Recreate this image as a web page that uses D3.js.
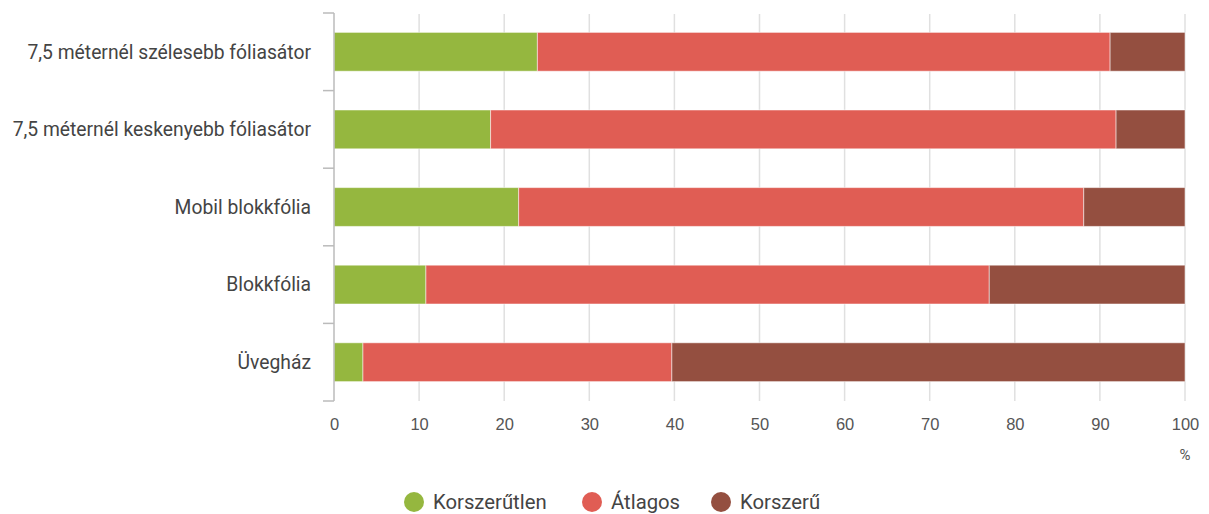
<!DOCTYPE html>
<html>
<head>
<meta charset="utf-8">
<script src="https://cdn.jsdelivr.net/npm/d3@7"></script>
<style>
  body { margin: 0; background: #fff; font-family: Roboto, "Noto Sans", sans-serif; }
  .tick text { fill: #555; font-size: 16.5px; }
</style>
</head>
<body>
<script>
// chart data
const categories = [
  "7,5 méternél szélesebb fóliasátor",
  "7,5 méternél keskenyebb fóliasátor",
  "Mobil blokkfólia",
  "Blokkfólia",
  "Üvegház"
];
const seriesNames = ["Korszerűtlen", "Átlagos", "Korszerű"];
const korszerutlen = [23.9, 18.4, 21.7, 10.8, 3.4];
const atlagos = [67.3, 73.5, 66.4, 66.2, 36.3];
const korszeru = [8.8, 8.1, 11.9, 23.0, 60.3];
const xTicks = [0, 10, 20, 30, 40, 50, 60, 70, 80, 90, 100];
const colors = ["#95b73f", "#e05d54", "#944f40"];

const W = 1209, H = 514;
const margin = { top: 13, right: 24, bottom: 113, left: 334 };
const width = W - margin.left - margin.right;
const height = H - margin.top - margin.bottom;

const rows = categories.map((c, i) => ({
  cat: c, k0: korszerutlen[i], k1: atlagos[i], k2: korszeru[i]
}));
const stack = d3.stack().keys(["k0", "k1", "k2"])(rows);

const svg = d3.select("body").append("svg")
  .attr("width", W).attr("height", H);
const g = svg.append("g").attr("transform", `translate(${margin.left},${margin.top})`);

const x = d3.scaleLinear().domain([0, 100]).range([0, width]);
const y = d3.scaleBand().domain(categories).range([0, height]).paddingInner(0.5).paddingOuter(0.25);

// vertical grid lines
g.append("g").selectAll("line").data(xTicks.slice(1)).join("line")
  .attr("x1", d => x(d)).attr("x2", d => x(d))
  .attr("y1", 1).attr("y2", height)
  .attr("stroke", "#e0e0e0").attr("stroke-width", 1.5);

// bars
g.selectAll("g.layer").data(stack).join("g")
  .attr("class", "layer")
  .attr("fill", (d, i) => colors[i])
  .selectAll("rect").data(d => d).join("rect")
  .attr("x", d => x(d[0]))
  .attr("y", d => y(d.data.cat))
  .attr("width", d => x(d[1]) - x(d[0]))
  .attr("height", y.bandwidth())
  .attr("stroke", "#fff").attr("stroke-opacity", 0.5).attr("stroke-width", 1);

// y axis with ticks on band boundaries
const yAxis = g.append("g");
yAxis.append("line").attr("x1", 0).attr("x2", 0).attr("y1", 0).attr("y2", height)
  .attr("stroke", "#bbb").attr("stroke-width", 1.5);
const step = height / categories.length;
yAxis.selectAll("line.tk").data(d3.range(categories.length + 1)).join("line")
  .attr("class", "tk")
  .attr("x1", -11).attr("x2", 0)
  .attr("y1", d => d * step).attr("y2", d => d * step)
  .attr("stroke", "#bbb").attr("stroke-width", 1.5);
yAxis.selectAll("text").data(categories).join("text")
  .attr("x", -23).attr("y", d => y(d) + y.bandwidth() / 2)
  .attr("dy", "0.35em").attr("text-anchor", "end")
  .attr("fill", "#444").style("font-size", "19.3px")
  .text(d => d);

// x axis
const xAxis = g.append("g").attr("transform", `translate(0,${height})`)
  .call(d3.axisBottom(x).tickValues(xTicks).tickSize(0).tickPadding(17));
xAxis.select(".domain").remove();

g.append("text")
  .attr("x", x(100)).attr("y", height + 59)
  .attr("text-anchor", "middle").attr("fill", "#555")
  .style("font-size", "15px").text("%");

// legend
const legendX = [414, 592, 721];
const legend = svg.append("g").selectAll("g").data(seriesNames).join("g")
  .attr("transform", (d, i) => `translate(${legendX[i]},502)`);
legend.append("circle").attr("r", 10).attr("fill", (d, i) => colors[i]);
legend.append("text").attr("x", 19).attr("dy", "0.35em")
  .attr("fill", "#444").style("font-size", "20.3px").text(d => d);
</script>
</body>
</html>
